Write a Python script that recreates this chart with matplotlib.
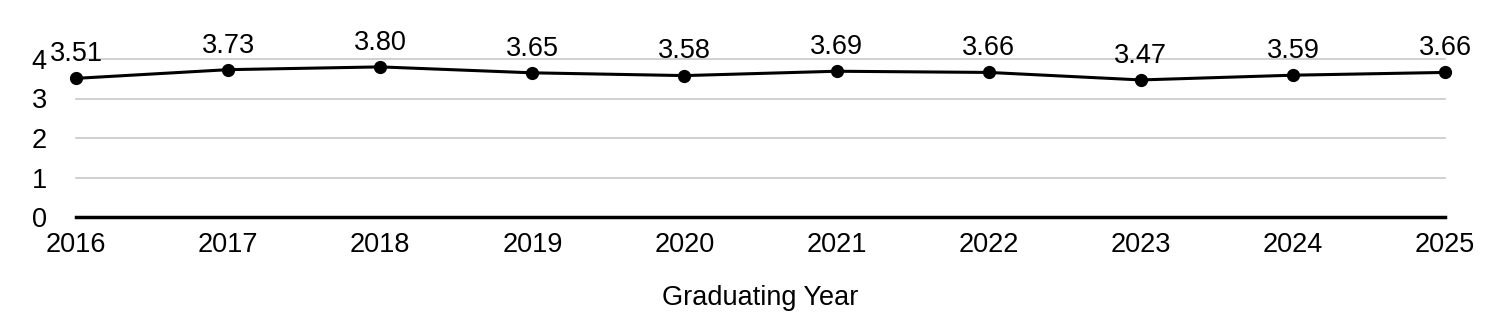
import matplotlib.pyplot as plt

years = [2016, 2017, 2018, 2019, 2020, 2021, 2022, 2023, 2024, 2025]
gpa = [3.51, 3.73, 3.80, 3.65, 3.58, 3.69, 3.66, 3.47, 3.59, 3.66]
y_ticks = [0, 1, 2, 3, 4]

plt.rcParams['font.family'] = ['Liberation Sans', 'DejaVu Sans']
plt.rcParams['font.size'] = 19.5

fig = plt.figure(figsize=(14.96, 3.26), dpi=100)
ax = fig.add_axes([76 / 1496, 1 - 217 / 326, (1445 - 76) / 1496, (217 - 59) / 326])

ax.plot(years, gpa, color='black', linewidth=2.2, marker='o', markersize=8.5, zorder=4, clip_on=False)
for x, y in zip(years, gpa):
    ax.annotate(f'{y:.2f}', (x, y), xytext=(0, 8), textcoords='offset points',
                ha='center', va='bottom', color='black')

ax.set_xlim(years[0], years[-1])
ax.set_ylim(0, 4)
ax.set_yticks(y_ticks)
ax.set_xticks(years)
ax.grid(axis='y', color='#c8c8c8', linewidth=1.2, clip_on=False)
ax.axhline(0, color='black', linewidth=2.5, zorder=3, clip_on=False)
for side in ['top', 'right', 'left', 'bottom']:
    ax.spines[side].set_visible(False)
ax.tick_params(axis='both', length=0)
ax.tick_params(axis='y', pad=21)
ax.tick_params(axis='x', pad=11)
ax.set_xlabel('Graduating Year', labelpad=19)

fig.savefig('out.png', dpi=100)
